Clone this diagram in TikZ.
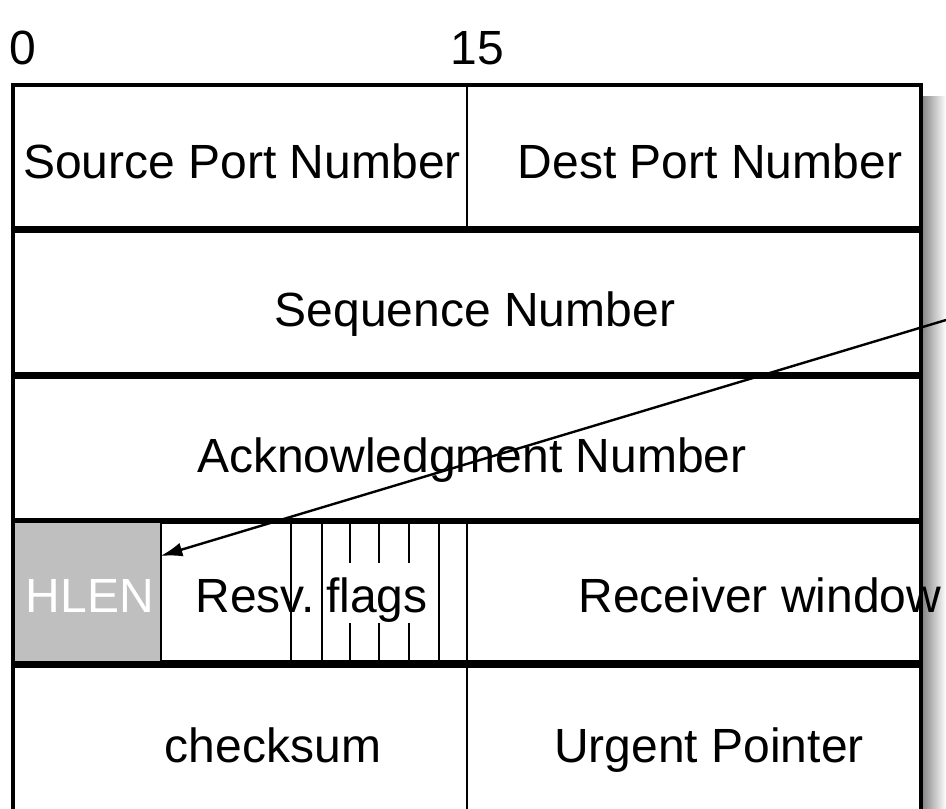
\documentclass[tikz,border=0pt]{standalone}
\usepackage{fontspec}
\setmainfont{Liberation Sans}
\usepackage{tikz}
\usetikzlibrary{positioning, calc, arrows.meta}

\begin{document}
\begin{tikzpicture}[x=0.5pt, y=-0.5pt, every node/.style={font=\fontsize{24}{29}\selectfont},
    rowbox/.style={draw=black, line width=1.6pt, fill=white},
    divider/.style={line width=1pt},
    field/.style={anchor=base, inner sep=0pt}]
    \useasboundingbox (0,0) rectangle (946,808);

    \shade[left color=black!50, right color=white] (921,97) rectangle (946,830);

    \foreach \top/\bot in {85/228,231/374,377/520,522/662,666/840} {
        \draw[rowbox] (13,\top) rectangle (921,\bot);
    }

    \node[fill=black!25, minimum width=72.5pt, minimum height=69pt, inner sep=0pt] (hlen) at (87.5,592) {};

    \draw[divider] (467,85) -- (467,228);
    \draw[divider] (467,666) -- (467,840);
    \draw[divider] (161,522) -- (161,662);
    \draw[divider] (467,522) -- (467,662);
    \foreach \x in {291,322,350,379,409,439} {
        \draw[divider] (\x,522) -- (\x,662);
    }
    \node[fill=white, minimum width=57pt, minimum height=30pt, inner sep=0pt] (flagsbox) at (380,593) {};

    \node[field] (zero) at (23,65) {0};
    \node[field] (fifteen) at (477,65) {15};
    \node[field] (srcport) at (242,178) {Source Port Number};
    \node[field] (dstport) at (710,178) {Dest Port Number};
    \node[field] (seqnum) at (475,326) {Sequence Number};
    \node[field] (acknum) at (472,472) {Acknowledgment Number};
    \node[field, text=white] (hlentext) at (90,612) {HLEN};
    \node[field] (resv) at (255,612) {Resv.};
    \node[field] (flags) at (377,612) {flags};
    \node[field] (rcvwin) at (760,612) {Receiver window};
    \node[field] (checksum) at (273,762) {checksum};
    \node[field] (urgptr) at (709,762) {Urgent Pointer};

    \coordinate (pointer) at (946,320);
    \draw[line width=1.2pt, -{Latex[length=11pt, width=7pt]}] (pointer) -- ($(hlen.east)+(0,-36)$);
\end{tikzpicture}
\end{document}
